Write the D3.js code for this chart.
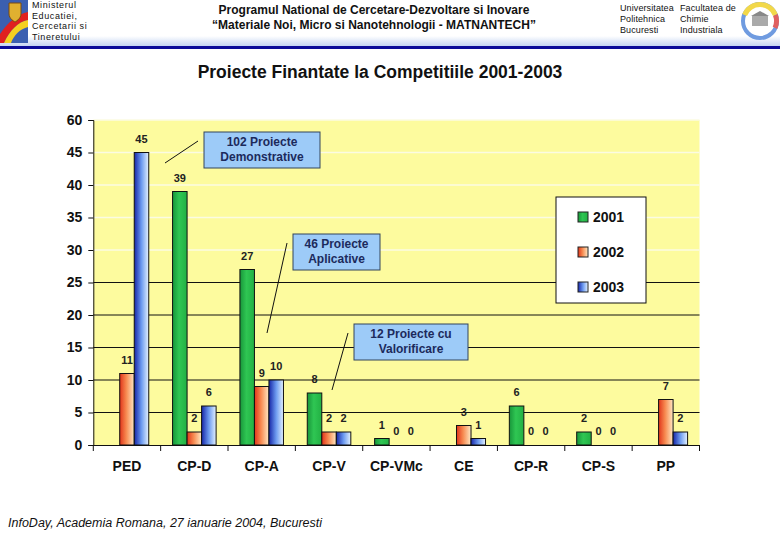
<!DOCTYPE html>
<html lang="ro">
<head>
<meta charset="UTF-8">
<title>Proiecte Finantate la Competitiile 2001-2003</title>
<script src="https://cdnjs.cloudflare.com/ajax/libs/d3/7.8.5/d3.min.js"></script>
<style>
    body { margin: 0; padding: 0; background: #fff; }
    svg { display: block; font-family: Arial, "Liberation Sans", sans-serif; }
    .hdr { font-size: 9px; fill: #111; letter-spacing: 0.6px; }
    .hdr-r { font-size: 9px; fill: #111; letter-spacing: 0.1px; }
    .prog { font-size: 12px; font-weight: bold; fill: #111; }
    .tick text { font-size: 14px; font-weight: bold; fill: #111; }
    .val { font-size: 11px; font-weight: bold; fill: #222; text-anchor: middle; }
    .callout text { font-size: 12px; font-weight: bold; fill: #1c2a5c; text-anchor: middle; }
    .leg { font-size: 14px; font-weight: bold; fill: #111; }
</style>
</head>
<body>
<div id="chart"></div>
<script>
// ---- data ----
const categories = ["PED", "CP-D", "CP-A", "CP-V", "CP-VMc", "CE", "CP-R", "CP-S", "PP"];
const years = ["2001", "2002", "2003"];
const values2001 = [null, 39, 27, 8, 1, null, 6, 2, null];
const values2002 = [11, 2, 9, 2, 0, 3, 0, 0, 7];
const values2003 = [45, 6, 10, 2, 0, 1, 0, 0, 2];
const yTickValues = [0, 5, 10, 15, 20, 25, 30, 35, 40, 45, 50];
const yTickLabels = ["0", "5", "10", "15", "20", "25", "30", "35", "40", "45", "60"];
const callouts = [
    { lines: ["102 Proiecte", "Demonstrative"] },
    { lines: ["46 Proiecte", "Aplicative"] },
    { lines: ["12 Proiecte cu", "Valorificare"] }
];

const W = 780, H = 540;
const svg = d3.select("#chart").append("svg").attr("width", W).attr("height", H);
const defs = svg.append("defs");

// bar gradients (horizontal)
function hGrad(id, stops) {
    const g = defs.append("linearGradient").attr("id", id)
        .attr("x1", "0%").attr("x2", "100%").attr("y1", "0%").attr("y2", "0%");
    stops.forEach(s => g.append("stop").attr("offset", s[0]).attr("stop-color", s[1]));
}
hGrad("g2001", [["0%", "#18963a"], ["45%", "#2fc653"], ["100%", "#22b043"]]);
hGrad("g2002", [["0%", "#e0341a"], ["45%", "#f78a50"], ["100%", "#ffe9c4"]]);
hGrad("g2003", [["0%", "#1626a8"], ["50%", "#6d9bf0"], ["100%", "#e4f2ff"]]);
const fills = { "2001": "url(#g2001)", "2002": "url(#g2002)", "2003": "url(#g2003)" };

// ---- header ----
const hg = defs.append("linearGradient").attr("id", "hdrGrad")
    .attr("x1", 0).attr("x2", 0).attr("y1", 0).attr("y2", 1);
hg.append("stop").attr("offset", "0%").attr("stop-color", "#ffffff");
hg.append("stop").attr("offset", "100%").attr("stop-color", "#c4d4f2");
svg.append("rect").attr("x", 0).attr("y", 36).attr("width", W).attr("height", 10).attr("fill", "url(#hdrGrad)");
svg.append("rect").attr("x", 0).attr("y", 46).attr("width", W).attr("height", 3).attr("fill", "#0b0b98");

// left crest
const crest = svg.append("g");
crest.append("rect").attr("x", 0).attr("y", 0).attr("width", 28).attr("height", 43).attr("fill", "#3b5fb0");
crest.append("path").attr("d", "M0,34 C8,22 18,14 28,12 L28,20 C18,22 10,30 4,43 L0,43 Z").attr("fill", "#e02020");
crest.append("path").attr("d", "M4,43 C10,30 18,22 28,20 L28,27 C20,29 14,35 11,43 Z").attr("fill", "#f5d020");
crest.append("path").attr("d", "M9,3 L21,3 L21,14 C21,19 15,22 15,22 C15,22 9,19 9,14 Z")
    .attr("fill", "#e0b030").attr("stroke", "#7a4a10").attr("stroke-width", 1);

["Ministerul", "Educatiei,", "Cercetarii si", "Tineretului"].forEach((t, i) =>
    svg.append("text").attr("class", "hdr").attr("x", 32).attr("y", 8 + i * 10.5).text(t));

svg.append("text").attr("class", "prog").attr("x", 374).attr("y", 14).attr("text-anchor", "middle")
    .text("Programul National de Cercetare-Dezvoltare si Inovare");
svg.append("text").attr("class", "prog").attr("x", 374).attr("y", 29).attr("text-anchor", "middle")
    .text("\u201cMateriale Noi, Micro si Nanotehnologii - MATNANTECH\u201d");

["Universitatea", "Politehnica", "Bucuresti"].forEach((t, i) =>
    svg.append("text").attr("class", "hdr-r").attr("x", 620).attr("y", 11 + i * 11).text(t));
["Facultatea de", "Chimie", "Industriala"].forEach((t, i) =>
    svg.append("text").attr("class", "hdr-r").attr("x", 680).attr("y", 11 + i * 11).text(t));

// right seal
const seal = svg.append("g").attr("transform", "translate(760,21)");
seal.append("circle").attr("r", 17).attr("fill", "none").attr("stroke", "#6f9be0").attr("stroke-width", 4);
seal.append("path").attr("d", d3.arc()({ innerRadius: 14, outerRadius: 19, startAngle: -1.2, endAngle: 1.2 })).attr("fill", "#f2d84a");
seal.append("path").attr("d", d3.arc()({ innerRadius: 14, outerRadius: 19, startAngle: 1.2, endAngle: 2.0 })).attr("fill", "#e06060");
seal.append("circle").attr("r", 13).attr("fill", "#fff");
seal.append("rect").attr("x", -8).attr("y", -5).attr("width", 16).attr("height", 10).attr("fill", "#aaa");
seal.append("path").attr("d", "M-9,-5 L0,-10 L9,-5 Z").attr("fill", "#888");

// ---- title ----
svg.append("text").attr("x", 380).attr("y", 78).attr("text-anchor", "middle")
    .style("font-size", "17.5px").style("font-weight", "bold").attr("fill", "#111")
    .text("Proiecte Finantate la Competitiile 2001-2003");

// ---- chart ----
const plot = { left: 93.3, right: 699.5, top: 120, bottom: 445 };
const x = d3.scaleBand().domain(categories).range([plot.left, plot.right]).padding(0);
const xs = d3.scaleBand().domain(years).range([0, x.bandwidth()]).paddingInner(0).paddingOuter(0.82);
const y = d3.scaleLinear().domain([0, 50]).range([plot.bottom, plot.top]);

svg.append("rect").attr("x", plot.left).attr("y", plot.top)
    .attr("width", plot.right - plot.left).attr("height", plot.bottom - plot.top).attr("fill", "#fdfb9e");

// gridlines: dark below 30, faint above
svg.append("g").selectAll("line").data(yTickValues.slice(1)).join("line")
    .attr("x1", plot.left).attr("x2", plot.right)
    .attr("y1", d => y(d)).attr("y2", d => y(d))
    .attr("stroke", d => d <= 25 ? "#111" : "#fbfbe2")
    .attr("stroke-width", d => d <= 25 ? 1 : 1.5);

// y axis
const yAxis = svg.append("g").attr("transform", `translate(${plot.left},0)`)
    .call(d3.axisLeft(y).tickValues(yTickValues).tickSize(5).tickPadding(6)
        .tickFormat((d, i) => yTickLabels[i]));
yAxis.selectAll("path, line").attr("stroke", "#111");

// x axis with ticks at category boundaries
const xAxis = svg.append("g").attr("transform", `translate(0,${plot.bottom})`)
    .call(d3.axisBottom(x).tickSize(0).tickPadding(16));
xAxis.select(".domain").attr("stroke", "#111");
svg.append("g").selectAll("line").data(d3.range(categories.length + 1)).join("line")
    .attr("x1", i => plot.left + i * x.step()).attr("x2", i => plot.left + i * x.step())
    .attr("y1", plot.bottom).attr("y2", plot.bottom + 6).attr("stroke", "#111");

// bars
const seriesVals = { "2001": values2001, "2002": values2002, "2003": values2003 };
const rows = [];
categories.forEach((c, i) => years.forEach(yr => {
    const v = seriesVals[yr][i];
    if (v !== null) rows.push({ cat: c, year: yr, value: v });
}));

svg.append("g").selectAll("rect").data(rows.filter(d => d.value > 0)).join("rect")
    .attr("x", d => x(d.cat) + xs(d.year))
    .attr("y", d => y(d.value))
    .attr("width", xs.bandwidth())
    .attr("height", d => y(0) - y(d.value))
    .attr("fill", d => fills[d.year])
    .attr("stroke", "#111").attr("stroke-width", 1);

svg.append("g").selectAll("text").data(rows).join("text")
    .attr("class", "val")
    .attr("x", d => x(d.cat) + xs(d.year) + xs.bandwidth() / 2)
    .attr("y", d => y(d.value) - 10)
    .text(d => d.value);

// legend
const leg = svg.append("g").attr("transform", "translate(556,197)");
leg.append("rect").attr("width", 90).attr("height", 106).attr("fill", "#fff").attr("stroke", "#111");
years.forEach((yr, i) => {
    const row = leg.append("g").attr("transform", `translate(22,${20 + i * 35})`);
    row.append("rect").attr("x", 0).attr("y", -5).attr("width", 10).attr("height", 10)
        .attr("fill", fills[yr]).attr("stroke", "#222");
    row.append("text").attr("class", "leg").attr("x", 15).attr("y", 5).text(yr);
});

// callouts
const calloutPos = [
    { x: 204, y: 132, w: 116, h: 36, from: [165, 163], to: [198, 141] },
    { x: 293, y: 234, w: 87, h: 36, from: [267, 333], to: [287, 243] },
    { x: 354, y: 324, w: 114, h: 36, from: [332, 390], to: [348, 333] }
];
callouts.forEach((c, i) => {
    const p = calloutPos[i];
    svg.append("line").attr("x1", p.from[0]).attr("y1", p.from[1]).attr("x2", p.to[0]).attr("y2", p.to[1])
        .attr("stroke", "#111").attr("stroke-width", 1);
    const g = svg.append("g").attr("class", "callout");
    g.append("rect").attr("x", p.x).attr("y", p.y).attr("width", p.w).attr("height", p.h)
        .attr("fill", "#9dcbf8").attr("stroke", "#33445a").attr("stroke-width", 1);
    c.lines.forEach((t, j) =>
        g.append("text").attr("x", p.x + p.w / 2).attr("y", p.y + 14 + j * 15).text(t));
});

// footer
svg.append("text").attr("x", 8).attr("y", 527)
    .style("font-size", "12.5px").style("font-style", "italic").attr("fill", "#111")
    .text("InfoDay, Academia Romana, 27 ianuarie 2004, Bucuresti");
</script>
</body>
</html>
